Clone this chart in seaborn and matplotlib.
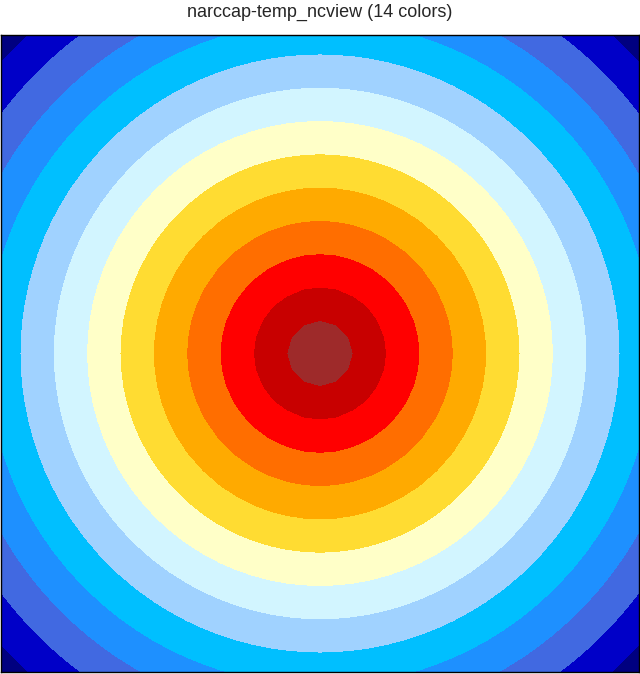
import numpy as np
import matplotlib
matplotlib.use("Agg")
import matplotlib.pyplot as plt
import seaborn as sns
from matplotlib.colors import ListedColormap, BoundaryNorm

# 14 colours of the narccap temp / ncview palette, centre -> corner
ring_colors = [
    "#9E2A2A", "#C80000", "#FF0000", "#FF6E00", "#FFAA00", "#FFDC32",
    "#FFFFC8", "#D2F5FF", "#A0D2FF", "#00BFFF", "#1E90FF", "#4169E1",
    "#0000C8", "#000080",
]
# contour boundaries (distance from centre, axes half-width = 1)
levels = [0.0, 0.1045, 0.209, 0.3135, 0.418, 0.5225, 0.627, 0.7315,
          0.836, 0.9405, 1.045, 1.1495, 1.254, 1.3585, 1.5]
# coarse sampling grid (visible facets in the contours)
grid_x = np.linspace(-1, 1, 39)
grid_y = np.linspace(-1, 1, 39)

sns.set_style("white")
plt.rcParams["font.family"] = ["Liberation Sans", "DejaVu Sans"]

fig = plt.figure(figsize=(6.4, 6.74), dpi=100)
ax = fig.add_axes([1 / 640, 2 / 674, 638 / 640, 637 / 674])

X, Y = np.meshgrid(grid_x, grid_y)
Z = np.hypot(X, Y)

cmap = ListedColormap(sns.color_palette(ring_colors))
norm = BoundaryNorm(levels, cmap.N)
ax.contourf(X, Y, Z, levels=levels, cmap=cmap, norm=norm)

ax.set_xlim(-1, 1)
ax.set_ylim(-1, 1)
ax.set_xticks([])
ax.set_yticks([])
for s in ax.spines.values():
    s.set_visible(True)
    s.set_color("black")
    s.set_linewidth(1.0)

fig.text(0.5, 1 - 12.5 / 674, "narccap-temp_ncview (14 colors)",
         ha="center", va="center", fontsize=13)

fig.savefig("out.png", dpi=100)
